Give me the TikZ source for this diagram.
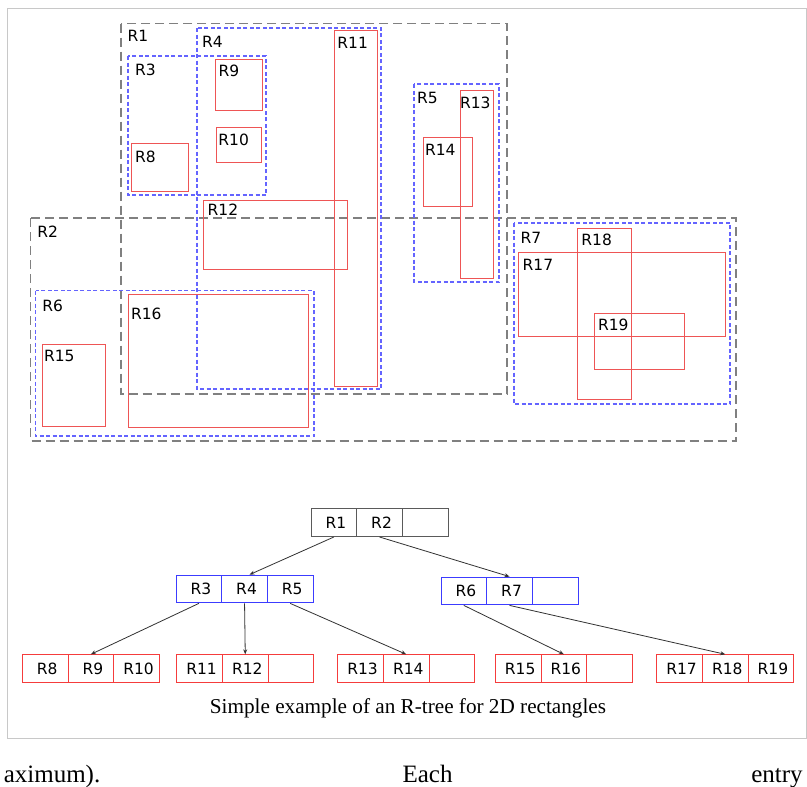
\documentclass[tikz,border=0pt]{standalone}
\usepackage{fontspec}
\usetikzlibrary{arrows.meta}
\newfontfamily\dv{DejaVu Sans}
\newfontfamily\tms{Liberation Serif}
\definecolor{frame}{RGB}{200,200,200}
\definecolor{gdash}{RGB}{128,128,128}
\definecolor{bdash}{RGB}{100,100,255}
\definecolor{rline}{RGB}{238,85,85}
\definecolor{tgray}{RGB}{90,90,90}
\definecolor{tblue}{RGB}{60,60,255}
\definecolor{tred}{RGB}{245,60,60}
\definecolor{arr}{RGB}{50,50,50}
\tikzset{
  outer/.style={draw=gdash, line width=1.3pt, dash pattern=on 9pt off 5pt},
  inner/.style={draw=bdash, line width=1.2pt, dash pattern=on 4pt off 2.5pt},
  leafrect/.style={draw=rline, line width=1pt},
  lbl/.style={anchor=base west, inner sep=0pt, font=\dv\fontsize{15.5}{18}\selectfont},
  cell/.style={draw, line width=1pt, minimum width=45.7pt, minimum height=27.8pt, inner sep=0pt,
    font=\dv\fontsize{15.5}{18}\selectfont},
  gcell/.style={cell, draw=tgray},
  bcell/.style={cell, draw=tblue},
  rcell/.style={cell, draw=tred},
  conn/.style={draw=arr, line width=0.8pt, -{Stealth[length=5pt,width=4pt]}},
  body/.style={inner sep=0pt, font=\tms\fontsize{25}{30}\selectfont}
}
\begin{document}
\begin{tikzpicture}[x=1pt,y=-1pt]
\useasboundingbox (0,0) rectangle (807,787);
\fill[white] (0,0) rectangle (807,787);
\draw[frame, line width=1pt] (7,8) rectangle (806.5,738.5);

% outer (level 1) rectangles
\draw[outer] (121,23.5) rectangle (507,394);
\draw[outer] (30.5,218) rectangle (736,441);
% level 2 rectangles
\draw[inner] (128,56) rectangle (266,195);
\draw[inner] (197,28) rectangle (381,389);
\draw[inner] (414,84) rectangle (499,282);
\draw[inner] (35.5,290.5) rectangle (314,436);
\draw[inner] (514,223) rectangle (730,404);
% leaf rectangles
\draw[leafrect] (131,143.5) rectangle (188,191);
\draw[leafrect] (215.5,59.5) rectangle (262,110);
\draw[leafrect] (216.5,127.5) rectangle (261,162);
\draw[leafrect] (334.5,30) rectangle (377.5,386);
\draw[leafrect] (203,200) rectangle (347,269);
\draw[leafrect] (460,90.5) rectangle (493.5,278);
\draw[leafrect] (423,137) rectangle (472,206);
\draw[leafrect] (42,344) rectangle (105.5,426);
\draw[leafrect] (128,294.5) rectangle (308,427);
\draw[leafrect] (518,252) rectangle (725,336);
\draw[leafrect] (577.5,228) rectangle (631.5,399.5);
\draw[leafrect] (594,313) rectangle (684.5,369);

% labels
\node[lbl] (lR1) at (127.5,41.7) {R1};
\node[lbl] (lR2) at (37.2,237.3) {R2};
\node[lbl] (lR3) at (134.8,75.3) {R3};
\node[lbl] (lR4) at (201.8,47.3) {R4};
\node[lbl] (lR5) at (416.8,103) {R5};
\node[lbl] (lR6) at (42.2,311.7) {R6};
\node[lbl] (lR7) at (520.5,243.3) {R7};
\node[lbl] (lR8) at (134.8,162) {R8};
\node[lbl] (lR9) at (218.5,76) {R9};
\node[lbl] (lR10) at (218.2,145.7) {R10};
\node[lbl] (lR11) at (337.2,48.3) {R11};
\node[lbl] (lR12) at (207.5,215) {R12};
\node[lbl] (lR13) at (459.8,108.3) {R13};
\node[lbl] (lR14) at (424.8,155.3) {R14};
\node[lbl] (lR15) at (43.8,361.7) {R15};
\node[lbl] (lR16) at (130.8,319.3) {R16};
\node[lbl] (lR17) at (522.5,270) {R17};
\node[lbl] (lR18) at (581.2,245) {R18};
\node[lbl] (lR19) at (597.8,330) {R19};

% tree: root
\node[gcell] (t1) at (333.85,522.6) {\kern4pt R1};
\node[gcell] (t2) at (379.55,522.6) {\kern4pt R2};
\node[gcell] (t3) at (425.25,522.6) {};
% level 2
\node[bcell] (a3) at (198.85,589) {\kern4pt R3};
\node[bcell] (a4) at (244.55,589) {\kern4pt R4};
\node[bcell] (a5) at (290.25,589) {\kern4pt R5};
\node[bcell] (b6) at (463.85,591) {\kern4pt R6};
\node[bcell] (b7) at (509.55,591) {\kern4pt R7};
\node[bcell] (b8) at (555.25,591) {};
% leaves
\node[rcell] (l8)  at (45.15,668.7) {\kern4pt R8};
\node[rcell] (l9)  at (90.85,668.7) {\kern4pt R9};
\node[rcell] (l10) at (136.55,668.7) {\kern4pt R10};
\node[rcell] (l11) at (199.55,668.7) {\kern4pt R11};
\node[rcell] (l12) at (245.25,668.7) {\kern4pt R12};
\node[rcell] (e2)  at (290.95,668.7) {};
\node[rcell] (l13) at (360.55,668.7) {\kern4pt R13};
\node[rcell] (l14) at (406.25,668.7) {\kern4pt R14};
\node[rcell] (e3)  at (451.95,668.7) {};
\node[rcell] (l15) at (518.15,668.7) {\kern4pt R15};
\node[rcell] (l16) at (563.85,668.7) {\kern4pt R16};
\node[rcell] (e4)  at (609.55,668.7) {};
\node[rcell] (l17) at (679.55,668.7) {\kern4pt R17};
\node[rcell] (l18) at (725.25,668.7) {\kern4pt R18};
\node[rcell] (l19) at (770.95,668.7) {\kern4pt R19};

% connectors
\draw[conn] (t1.south) -- ([xshift=5pt]a4.north);
\draw[conn] (t2.south) -- (b7.north);
\draw[conn] (a3.south) -- (l9.north);
\draw[conn] (a4.south) -- (l12.north);
\draw[conn] (a5.south) -- (l14.north);
\draw[conn] (b6.south) -- (l16.north);
\draw[conn] (b7.south) -- (l18.north);

% caption and body text
\node[inner sep=0pt, anchor=base, font=\tms\fontsize{21.2}{25}\selectfont] (cap) at (408,713) {Simple example of an R-tree for 2D rectangles};
\node[body, anchor=base east] (w1) at (100.5,782) {aximum).};
\node[body, anchor=base west] (w2) at (402.4,782) {Each};
\node[body, anchor=base west] (w3) at (751.1,782) {entry};
\end{tikzpicture}
\end{document}
